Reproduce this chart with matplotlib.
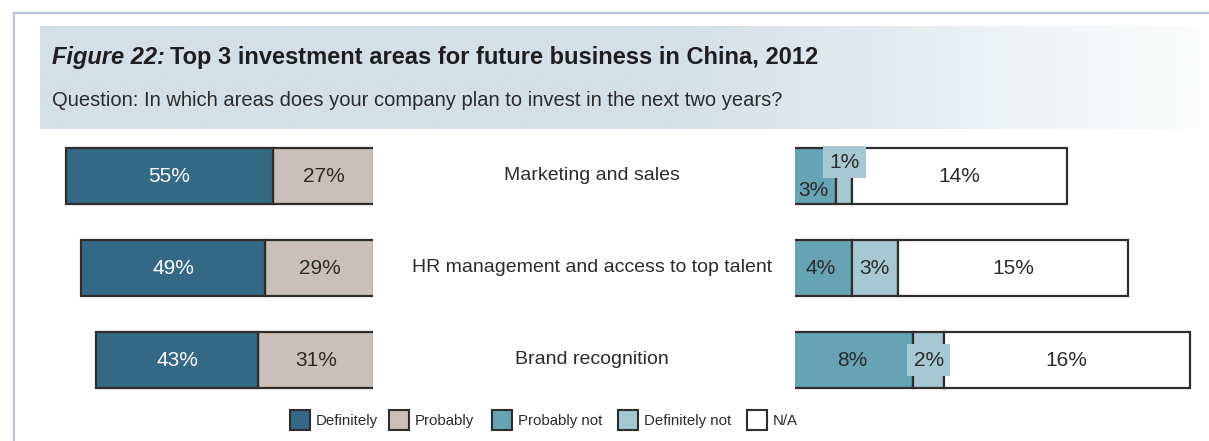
import numpy as np
import matplotlib.pyplot as plt
from matplotlib.patches import Rectangle
from matplotlib.transforms import blended_transform_factory

plt.rcParams['font.family'] = ['Liberation Sans', 'DejaVu Sans']

# Survey data (share of respondents, %)
areas = ["Marketing and sales", "HR management and access to top talent", "Brand recognition"]
definitely = [55, 49, 43]
probably = [27, 29, 31]
probably_not = [3, 4, 8]
definitely_not = [1, 3, 2]
not_available = [14, 15, 16]

series_names = ["Definitely", "Probably", "Probably not", "Definitely not", "N/A"]
colors = ["#336985", "#cbc0b9", "#66a3b5", "#a5c8d3", "#ffffff"]
label_colors = ["white", "#2b2b2b", "#2b2b2b", "#2b2b2b", "#2b2b2b"]
edge = "#2e2e2e"

W, H = 1209, 441
fig = plt.figure(figsize=(W / 100, H / 100), dpi=100)


def fx(px):
    return px / W


def fy(py):
    return 1 - py / H


# Frame lines
frame = "#b8c0de"
fig.add_artist(plt.Line2D([fx(14), fx(W)], [fy(12.5), fy(12.5)], color=frame, lw=1.6))
fig.add_artist(plt.Line2D([fx(14), fx(14)], [fy(12.5), fy(440)], color=frame, lw=1.6))

# Header band with fade to white on the right
hax = fig.add_axes([fx(40), fy(129), fx(1200) - fx(40), fy(26) - fy(129)])
hax.set_axis_off()
xs = np.linspace(0, 1, 400)
t = np.clip((xs - 0.55) / 0.45, 0, 1)
start = np.array([0xd3, 0xe0, 0xe8]) / 255
end = np.array([0xfc, 0xfd, 0xfd]) / 255
grad = start[None, :] * (1 - t[:, None]) + end[None, :] * t[:, None]
hax.imshow(grad[None, :, :], aspect="auto", extent=[0, 1, 0, 1])
hax.set_xlim(0, 1)
hax.set_ylim(0, 1)

t1 = fig.text(fx(52), fy(64), "Figure 22:", fontsize=17, fontweight="bold",
              fontstyle="italic", color="#1e1e1e", va="baseline", ha="left")
fig.add_artist(plt.Annotation("Top 3 investment areas for future business in China, 2012",
                              xy=(1, 0), xycoords=t1, xytext=(4, 0),
                              textcoords="offset points", fontsize=17,
                              fontweight="bold", color="#1e1e1e",
                              va="bottom", ha="left"))
fig.text(fx(52), fy(101), "Question: In which areas does your company plan to invest in the next two years?",
         fontsize=14.5, color="#2b2b2b", va="center", ha="left")

# Bar areas
y_top, y_bot = 130, 406
rows = np.arange(len(areas))
bar_h = 0.6

left_ax = fig.add_axes([fx(40), fy(y_bot), fx(373) - fx(40), fy(y_top) - fy(y_bot)])
right_ax = fig.add_axes([fx(795), fy(y_bot), fx(1205) - fx(795), fy(y_top) - fy(y_bot)])

# Left: positive answers, growing leftwards from a common right edge
left_series = [probably, definitely]
left_idx = [1, 0]
offset = np.zeros(len(areas))
for vals, k in zip(left_series, left_idx):
    vals = np.array(vals, dtype=float)
    left_ax.barh(rows, vals, left=offset, height=bar_h, color=colors[k],
                 edgecolor=edge, linewidth=1.6)
    for r, (o, v) in enumerate(zip(offset, vals)):
        left_ax.text(o + v / 2, r, f"{int(v)}%", ha="center", va="center",
                     fontsize=15, color=label_colors[k])
    offset += vals
left_ax.set_xlim(89, 0.3)
left_ax.set_ylim(2.5, -0.5)
left_ax.set_axis_off()

# Right: negative answers and N/A
right_series = [probably_not, definitely_not, not_available]
right_idx = [2, 3, 4]
offset = np.zeros(len(areas))
for vals, k in zip(right_series, right_idx):
    vals = np.array(vals, dtype=float)
    right_ax.barh(rows, vals, left=offset, height=bar_h, color=colors[k],
                  edgecolor=edge, linewidth=1.6)
    for r, (o, v) in enumerate(zip(offset, vals)):
        x = o + v / 2
        y = r
        bbox = None
        if k == 2 and r == 0:
            y = r + 0.16
        if k == 3 and r == 0:
            y = r - 0.15
            bbox = dict(boxstyle="square,pad=0.3", fc=colors[3], ec="none")
        if k == 3 and r == 2:
            bbox = dict(boxstyle="square,pad=0.3", fc=colors[3], ec="none")
        right_ax.text(x, y, f"{int(v)}%", ha="center", va="center",
                      fontsize=15, color=label_colors[k], bbox=bbox)
    offset += vals
right_ax.set_xlim(0.3, 27)
right_ax.set_ylim(2.5, -0.5)
right_ax.set_axis_off()

# Category names between the two halves
trans = blended_transform_factory(fig.transFigure, left_ax.transData)
for r, name in enumerate(areas):
    fig.text(fx(592), r, name, transform=trans, ha="center", va="center",
             fontsize=14, color="#2b2b2b")

# Legend
legend_x = [290, 389, 492, 618, 747]
for k, (name, px) in enumerate(zip(series_names, legend_x)):
    fig.add_artist(Rectangle((fx(px), fy(430)), fx(20), fy(410) - fy(430),
                             transform=fig.transFigure, facecolor=colors[k],
                             edgecolor=edge, linewidth=1.5))
    fig.text(fx(px + 26), fy(421), name, ha="left", va="center",
             fontsize=10.8, color="#2b2b2b")

fig.savefig("out.png", dpi=100)
